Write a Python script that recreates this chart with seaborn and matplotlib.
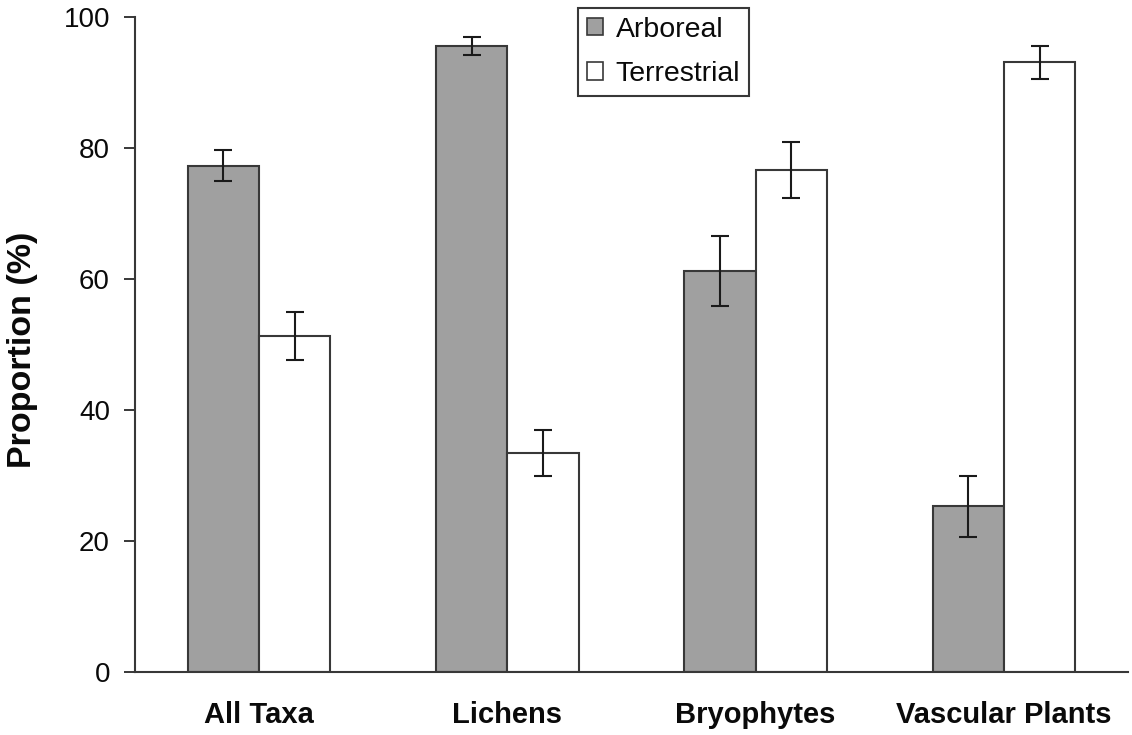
import matplotlib
matplotlib.use("Agg")
import matplotlib.pyplot as plt
from matplotlib.patches import Patch
import pandas as pd
import seaborn as sns

# Proportion of species by habitat, with standard errors
categories = ["All Taxa", "Lichens", "Bryophytes", "Vascular Plants"]
habitats = ["Arboreal", "Terrestrial"]
arboreal = [77.3, 95.6, 61.2, 25.3]
terrestrial = [51.3, 33.4, 76.6, 93.1]
arboreal_err = [2.4, 1.4, 5.3, 4.7]
terrestrial_err = [3.6, 3.5, 4.3, 2.5]

sns.set_style("ticks")
plt.rcParams["font.family"] = ["Liberation Sans", "DejaVu Sans"]

df = pd.DataFrame({
    "Taxon": categories * 2,
    "Habitat": [habitats[0]] * len(categories) + [habitats[1]] * len(categories),
    "Proportion": arboreal + terrestrial,
})

fill_colors = {"Arboreal": "#a0a0a0", "Terrestrial": "#ffffff"}
edge_color = "#383838"

fig = plt.figure(figsize=(11.32, 7.35), dpi=100)
ax = fig.add_axes([135 / 1132, 1 - 672 / 735, 993 / 1132, 655 / 735])

sns.barplot(
    data=df, x="Taxon", y="Proportion", hue="Habitat",
    order=categories, hue_order=habitats, palette=fill_colors,
    width=0.575, errorbar=None, edgecolor=edge_color, linewidth=1.5,
    legend=False, ax=ax, saturation=1,
)

# Error bars at the centre of each drawn bar
for container, errs in zip(ax.containers, [arboreal_err, terrestrial_err]):
    for bar, e in zip(container, errs):
        cx = bar.get_x() + bar.get_width() / 2
        ax.errorbar(cx, bar.get_height(), yerr=e, fmt="none",
                    ecolor="#1a1a1a", elinewidth=1.5, capsize=6.2,
                    capthick=1.5, zorder=5)

ax.set_xlim(-0.5, 3.5)
ax.set_ylim(0, 100)
ax.set_yticks([0, 20, 40, 60, 80, 100])
ax.set_xlabel("")
ax.set_ylabel("")

sns.despine(ax=ax)
for side in ("left", "bottom"):
    ax.spines[side].set_color(edge_color)
    ax.spines[side].set_linewidth(1.5)

ax.tick_params(axis="y", direction="out", length=8, width=1.4,
               color=edge_color, labelsize=20, pad=10, labelcolor="#0a0a0a")
ax.tick_params(axis="x", length=0, labelsize=21, pad=21, labelcolor="#0a0a0a")
for lab in ax.get_xticklabels():
    lab.set_fontweight("bold")

fig.text(23 / 1132, 1 - 350 / 735, "Proportion (%)", rotation=90,
         ha="center", va="center", fontsize=24.5, fontweight="bold",
         color="#0a0a0a")

handles = [Patch(facecolor=fill_colors[h], edgecolor=edge_color, linewidth=1.2,
                 label=h) for h in habitats]
leg = ax.legend(
    handles=handles, loc="upper left",
    bbox_to_anchor=(578 / 1132, 1 - 8 / 735), bbox_transform=fig.transFigure,
    borderaxespad=0, frameon=True, fancybox=False, fontsize=20.5,
    handlelength=0.58, handleheight=0.58, handletextpad=0.45,
    borderpad=0.3, labelspacing=0.65,
)
for t in leg.get_texts():
    t.set_color("#0a0a0a")
leg.get_frame().set_edgecolor(edge_color)
leg.get_frame().set_linewidth(1.5)
leg.get_frame().set_facecolor("white")
leg.get_frame().set_alpha(1)

fig.savefig("out.png", dpi=100, facecolor="white")
